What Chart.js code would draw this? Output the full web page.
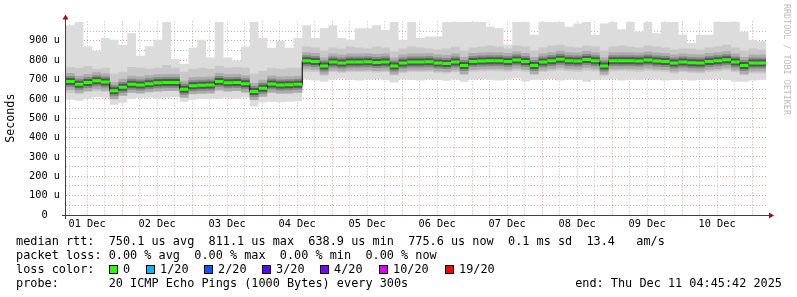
<!DOCTYPE html>
<html>
<head>
<meta charset="utf-8">
<script src="https://cdn.jsdelivr.net/npm/chart.js@4"></script>
<style>
  body { margin: 0; background: #fff; }
  #wrap { position: relative; width: 797px; height: 297px; font-family: 'DejaVu Sans Mono', monospace; font-size: 11.85px; color: #000; }
  #wrap canvas { position: absolute; left: 0; top: 0; }
  .txt { position: absolute; white-space: pre; line-height: 14px; }
  .box { position: absolute; width: 9px; height: 9px; border: 1px solid #000; box-sizing: border-box; }
  #credit { position: absolute; left: 782px; top: 4px; writing-mode: vertical-rl; font-size: 8.4px; color: #bdbdbd; white-space: pre; }
</style>
</head>
<body>
<div id="wrap">
  <canvas id="chart" width="797" height="297"></canvas>
  <div id="credit">RRDTOOL / TOBI OETIKER</div>
  <div class="txt" style="left:16px; top:234px">median rtt:  750.1 us avg  811.1 us max  638.9 us min  775.6 us now  0.1 ms sd  13.4   am/s</div>
  <div class="txt" style="left:16px; top:248px">packet loss: 0.00 % avg  0.00 % max  0.00 % min  0.00 % now</div>
  <div class="txt" style="left:16px; top:262px">loss color:</div>
  <div id="loss"></div>
  <div class="txt" style="left:16px; top:276px">probe:       20 ICMP Echo Pings (1000 Bytes) every 300s</div>
  <div class="txt" style="right:15px; top:276px">end: Thu Dec 11 04:45:42 2025</div>
</div>
<script>
// hours since 01 Dec 00:00, one value per 3h block
const startHour = 4.76;
const stepHours = 3;

const median = [
  690, 676, 685, 693, 687, 642, 660, 676, 672, 678, 683, 685, 685, 650, 668, 670, 672, 690, 683, 685,
  678, 638, 655, 677, 672, 673, 675, 797, 793, 770, 790, 785, 790, 790, 792, 788, 790, 770, 785, 790, 790,
  792, 785, 782, 790, 772, 793, 795, 797, 797, 793, 800, 793, 772, 790, 797, 805, 797, 795, 803, 797,
  770, 797, 797, 797, 795, 800, 795, 793, 785, 790, 787, 785, 793, 797, 802, 790, 772, 785, 785
];
const pingMax = [
  980, 997, 872, 848, 914, 905, 880, 939, 823, 872, 905, 997, 806, 781, 864, 905, 814, 997, 814, 798,
  870, 997, 914, 864, 900, 864, 914, 980, 914, 964, 980, 914, 905, 964, 964, 980, 955, 997, 905, 997, 914,
  922, 922, 997, 997, 997, 1000, 997, 972, 964, 881, 997, 997, 931, 997, 997, 997, 972, 989, 997, 931,
  989, 997, 960, 997, 947, 997, 939, 997, 997, 931, 889, 931, 931, 1000, 1000, 1000, 947, 905, 898
];
const pingMin = [
  595, 590, 600, 610, 605, 570, 580, 600, 605, 605, 600, 605, 610, 585, 595, 600, 600, 600, 605, 600,
  607, 560, 582, 585, 582, 585, 588,
  700, 695, 688, 700, 705, 698, 695, 700, 702, 696, 685, 700, 698, 695, 700, 697, 693, 700, 688, 700,
  702, 698, 695, 700, 705, 690, 698, 700, 702, 695, 700, 698, 688, 697, 700, 703, 695, 700, 698, 702,
  700, 695, 697, 700, 695, 698, 700, 702, 697, 690, 688, 695, 698
];
const smokeHi = [
  765, 760, 770, 755, 760, 730, 740, 765, 760, 755, 760, 775, 760, 740, 755, 760, 755, 770, 760, 765,
  760, 730, 745, 760, 755, 760, 760,
  870, 865, 850, 865, 860, 870, 865, 860, 870, 865, 845, 860, 870, 865, 860, 855, 860, 870, 850, 865,
  870, 875, 870, 860, 875, 870, 850, 865, 875, 880, 870, 865, 875, 870, 850, 870, 875, 870, 865, 875,
  870, 865, 855, 860, 860, 855, 865, 870, 880, 865, 850, 860, 855
];
const smokeLo = [
  630, 625, 635, 640, 635, 600, 615, 630, 630, 635, 635, 640, 640, 610, 625, 630, 630, 640, 635, 640,
  630, 600, 615, 630, 625, 625, 630,
  740, 738, 720, 738, 735, 740, 738, 740, 736, 738, 722, 735, 740, 738, 740, 735, 732, 738, 722, 740,
  742, 745, 742, 740, 745, 740, 722, 738, 742, 748, 742, 740, 745, 742, 720, 742, 745, 742, 740, 745,
  742, 740, 732, 738, 735, 732, 740, 742, 748, 738, 722, 732, 732
];

const dayLabels = ['01 Dec', '02 Dec', '03 Dec', '04 Dec', '05 Dec', '06 Dec', '07 Dec', '08 Dec', '09 Dec', '10 Dec'];

const lossLabels = ['0', '1/20', '2/20', '3/20', '4/20', '10/20', '19/20'];
const lossColors = ['#26ff00', '#00b8ff', '#0059ff', '#5e00ff', '#7e00ff', '#dd00ff', '#ff0000'];
const lossBoxX = [109, 146, 204, 262, 320, 379, 445];

// legend boxes
const lossDiv = document.getElementById('loss');
lossLabels.forEach((lbl, i) => {
  const b = document.createElement('div');
  b.className = 'box';
  b.style.left = lossBoxX[i] + 'px';
  b.style.top = '265px';
  b.style.background = lossColors[i];
  lossDiv.appendChild(b);
  const t = document.createElement('div');
  t.className = 'txt';
  t.style.left = (lossBoxX[i] + 14) + 'px';
  t.style.top = '262px';
  t.textContent = lbl;
  lossDiv.appendChild(t);
});

function steps(values) {
  const pts = values.map((v, i) => ({ x: startHour + i * stepHours, y: v }));
  pts.push({ x: startHour + values.length * stepHours, y: values[values.length - 1] });
  return pts;
}
// centre of each 3h block, drawn as short horizontal dashes
const blockPts = median.map((v, i) => ({ x: startHour + (i + 0.5) * stepHours, y: v }));

// grid every 6 hours
const gridHours = [];
for (let h = 6; h <= 240; h += 6) gridHours.push(h);

const majorGrid = 'rgba(225,120,120,0.75)';
const minorGrid = 'rgba(170,170,170,0.75)';
const tickFont = { family: 'DejaVu Sans Mono', size: 10.3 };

// axis lines and the little red arrows
const axisArrows = {
  id: 'axisArrows',
  afterDraw(chart) {
    const { ctx, chartArea: a } = chart;
    ctx.save();
    ctx.strokeStyle = '#404040';
    ctx.lineWidth = 1;
    ctx.beginPath();
    ctx.moveTo(a.left - 4, a.bottom + 0.5);
    ctx.lineTo(a.right + 4, a.bottom + 0.5);
    ctx.moveTo(a.left - 0.5, a.bottom + 4);
    ctx.lineTo(a.left - 0.5, a.top - 3);
    ctx.stroke();
    ctx.fillStyle = '#a01010';
    ctx.beginPath();
    ctx.moveTo(a.left - 0.5, a.top - 7);
    ctx.lineTo(a.left - 3.5, a.top - 2);
    ctx.lineTo(a.left + 2.5, a.top - 2);
    ctx.fill();
    ctx.beginPath();
    ctx.moveTo(a.right + 8, a.bottom + 0.5);
    ctx.lineTo(a.right + 3, a.bottom - 2.5);
    ctx.lineTo(a.right + 3, a.bottom + 3.5);
    ctx.fill();
    ctx.restore();
  }
};

const base = { pointRadius: 0, borderWidth: 0, borderColor: 'transparent', stepped: true, fill: false };
const dash = { showLine: false, pointStyle: 'line', pointRadius: 4.4 };

new Chart(document.getElementById('chart'), {
  type: 'line',
  data: {
    datasets: [
      { ...base, data: steps(pingMax), fill: '+1', backgroundColor: '#dcdcdc', order: 10 },
      { ...base, data: steps(pingMin), order: 9 },
      { ...base, data: steps(smokeHi), fill: '+1', backgroundColor: '#c8c8c8', order: 8 },
      { ...base, data: steps(smokeLo), order: 7 },
      { ...dash, data: blockPts, pointBorderWidth: 17, pointBorderColor: '#acacac', order: 6 },
      { ...dash, data: blockPts, pointBorderWidth: 11, pointBorderColor: '#888888', order: 5 },
      { ...dash, data: blockPts, pointBorderWidth: 7, pointBorderColor: '#555555', order: 4 },
      { ...base, data: steps(median), borderWidth: 1, borderColor: '#000', order: 3 },
      { ...dash, data: blockPts, pointBorderWidth: 3, pointBorderColor: '#26ff00', order: 1 }
    ]
  },
  options: {
    responsive: false,
    animation: false,
    events: [],
    layout: { padding: { left: 0, right: 31, top: 14, bottom: 0 } },
    plugins: { legend: { display: false }, tooltip: { enabled: false } },
    scales: {
      x: {
        type: 'linear',
        min: startHour,
        max: startHour + 240,
        z: 1,
        afterFit: s => { s.height = 82; },
        afterBuildTicks: s => { s.ticks = gridHours.map(h => ({ value: h })); },
        border: { display: false, dash: [1, 2] },
        grid: {
          drawTicks: false,
          color: c => (c.tick && c.tick.value % 24 === 0 ? majorGrid : minorGrid)
        },
        ticks: {
          autoSkip: false,
          maxRotation: 0,
          padding: 3,
          font: tickFont,
          color: '#000',
          callback: v => (v % 24 === 12 ? dayLabels[(v - 12) / 24] : '')
        }
      },
      y: {
        min: 0,
        max: 1000,
        z: 1,
        afterFit: s => { s.width = 66; },
        border: { display: false, dash: [1, 2] },
        grid: {
          drawTicks: false,
          color: c => {
            const v = c.tick ? c.tick.value : 0;
            if (v === 0 || v === 1000) return 'transparent';
            return v % 100 === 0 ? majorGrid : minorGrid;
          }
        },
        ticks: {
          stepSize: 50,
          autoSkip: false,
          crossAlign: 'center',
          padding: 6,
          font: tickFont,
          color: '#000',
          callback: v => (v === 0 ? '0' : (v % 100 === 0 && v < 1000 ? v + ' u' : ''))
        },
        title: {
          display: true,
          text: 'Seconds',
          color: '#000',
          font: { family: 'DejaVu Sans Mono', size: 11.7 },
          padding: { top: 4, bottom: 0 }
        }
      }
    }
  },
  plugins: [axisArrows]
});
</script>
</body>
</html>
